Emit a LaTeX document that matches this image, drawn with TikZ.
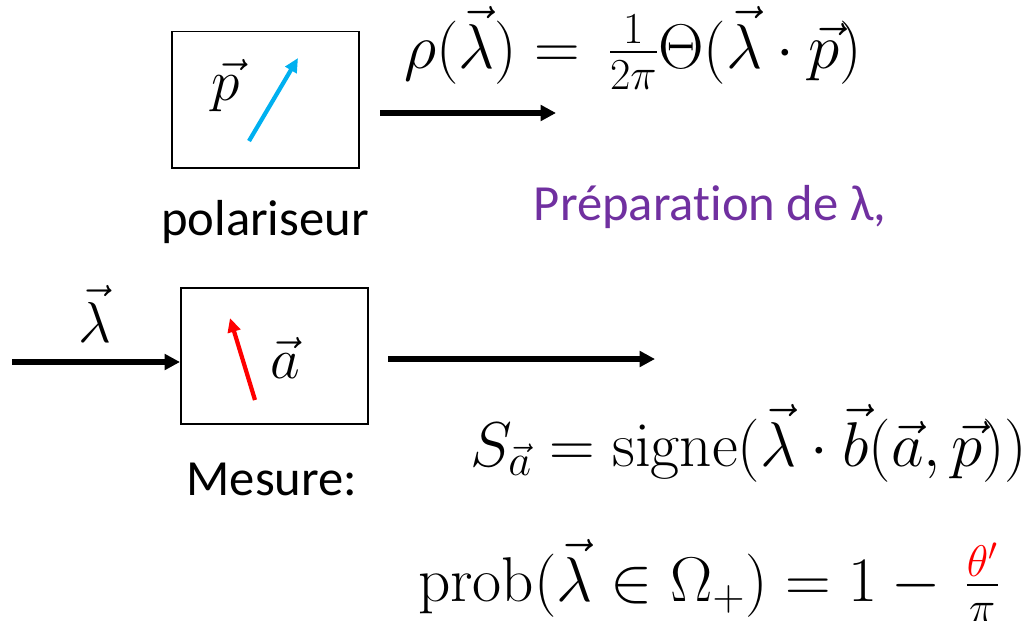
\RequirePackage{fix-cm}
\documentclass[tikz,border=0pt]{standalone}
\usepackage{amsmath}
\usepackage[no-math]{fontspec}
\newfontfamily\calibri[Ligatures=NoCommon]{Carlito}
\usepackage{xcolor}
\usepackage{tikz}
\usetikzlibrary{arrows.meta, positioning}
\definecolor{bleuciel}{HTML}{00B0F0}
\definecolor{myviolet}{HTML}{7030A0}
\tikzstyle{appareil} = [draw=black, line width=1.4pt, minimum width=4.65cm, minimum height=3.4cm, inner sep=0pt]
\tikzstyle{fleche} = [line width=3.8pt, -{Triangle[length=11pt,width=11pt]}]
\tikzstyle{pointe} = [line width=3pt, -{Triangle[length=10pt,width=9pt]}]
\tikzstyle{etiquette} = [font=\calibri\fontsize{36}{43}\selectfont, inner sep=0pt, anchor=base]
\tikzstyle{formule} = [font=\fontsize{45}{54}\selectfont, inner sep=0pt, anchor=base west]

\begin{document}
\begin{tikzpicture}[x=0.025cm,y=-0.025cm]
\useasboundingbox (0,0) rectangle (1032,620);

% polariseur
\node[appareil] (polar) at (265.5,99.5) {};
\node[formule,font=\fontsize{41}{49}\selectfont,anchor=base] (vecp) at (226,100) {$\vec p$};
\coordinate (p0) at (249,141);
\coordinate (p1) at (298,58);
\draw[pointe,bleuciel] (p0) -- (p1);
\node[etiquette] (polartxt) at (265,235) {polariseur};

\coordinate (prepA) at (380,113);
\coordinate (prepB) at (556,113);
\draw[fleche] (prepA) -- (prepB);
\node[formule] (rho) at (404,68)
  {$\rho(\vec\lambda) = \,\frac{1}{2\pi}\Theta(\vec\lambda\cdot\vec p)$};
\node[etiquette,text=myviolet] (prep) at (710,220) {Préparation de λ,};

% mesure
\node[appareil,minimum width=4.675cm] (mes) at (274.5,356) {};
\node[formule,font=\fontsize{41}{49}\selectfont,anchor=base] (veca) at (285,378) {$\vec a$};
\coordinate (a0) at (255,400);
\coordinate (a1) at (230,318);
\draw[pointe,red] (a0) -- (a1);
\node[etiquette] (mestxt) at (272,495) {Mesure:};

\coordinate (lamin) at (12,362);
\draw[fleche] (lamin) -- (lamin -| mes.west);
\node[formule,font=\fontsize{41}{49}\selectfont,anchor=base] (lam) at (95,342) {$\vec\lambda$};

\coordinate (sortA) at (388,359);
\coordinate (sortB) at (655,359);
\draw[fleche] (sortA) -- (sortB);

\node[formule] (signe) at (470,466)
  {$S_{\vec a} = \mathrm{signe}(\vec\lambda\cdot\vec b(\vec a,\vec p))$};
\node[formule] (prob) at (418,601)
  {$\mathrm{prob}(\vec\lambda\in\Omega_+) = 1-\,\frac{\color{red}\theta'}{\pi}$};
\end{tikzpicture}
\end{document}
